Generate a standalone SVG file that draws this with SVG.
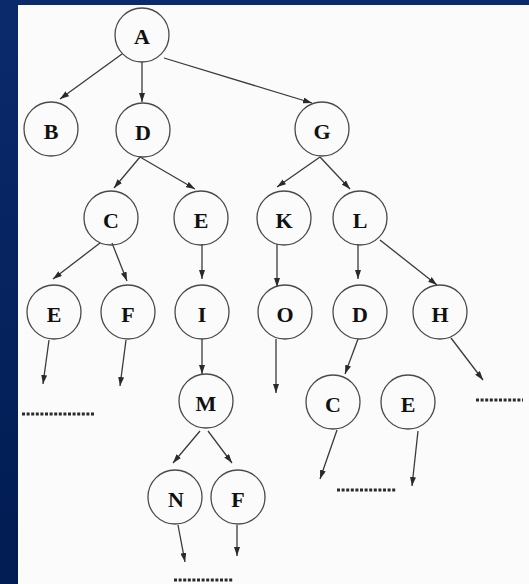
<svg xmlns="http://www.w3.org/2000/svg" width="529" height="584" viewBox="0 0 529 584">
<defs>
<linearGradient id="bg" x1="0" y1="0" x2="0" y2="1">
<stop offset="0" stop-color="#0b2a6c"/>
<stop offset="1" stop-color="#011c52"/>
</linearGradient>
<marker id="ah" markerUnits="userSpaceOnUse" markerWidth="9" markerHeight="6" refX="9" refY="3" orient="auto">
<path d="M0,0 L9,3 L0,6 z" fill="#2a2a2a"/>
</marker>
</defs>
<style>
.n circle{fill:none;stroke:#4a4a4a;stroke-width:1.3}
.n text{font-family:"Liberation Serif",serif;font-weight:bold;font-size:22px;fill:#111;text-anchor:middle}
#edges line{stroke:#3a3a3a;stroke-width:1.3;marker-end:url(#ah)}
.dots{stroke:#2a2a2a;stroke-width:3;stroke-dasharray:3 1.6;fill:none}
</style>
<rect x="0" y="0" width="529" height="584" fill="url(#bg)"/>
<rect x="18" y="5" width="511" height="579" fill="#fbfbfb"/>
<g id="edges">
<line x1="122" y1="54" x2="60" y2="99"/>
<line x1="142" y1="62" x2="142" y2="102"/>
<line x1="164" y1="58" x2="312" y2="103"/>
<line x1="140" y1="157" x2="114" y2="188"/>
<line x1="140" y1="157" x2="195" y2="189"/>
<line x1="320" y1="157" x2="277" y2="187"/>
<line x1="320" y1="157" x2="350" y2="189"/>
<line x1="100" y1="243" x2="53" y2="279"/>
<line x1="112" y1="243" x2="127" y2="281"/>
<line x1="202" y1="244" x2="202" y2="279"/>
<line x1="277" y1="244" x2="277" y2="287"/>
<line x1="358" y1="244" x2="358" y2="279"/>
<line x1="380" y1="240" x2="437" y2="285"/>
<line x1="49" y1="340" x2="43" y2="384"/>
<line x1="126" y1="340" x2="120" y2="386"/>
<line x1="202" y1="339" x2="202" y2="374"/>
<line x1="276" y1="339" x2="276" y2="393"/>
<line x1="358" y1="339" x2="345" y2="374"/>
<line x1="451" y1="338" x2="483" y2="380"/>
<line x1="200" y1="431" x2="173" y2="463"/>
<line x1="208" y1="431" x2="232" y2="463"/>
<line x1="337" y1="430" x2="320" y2="479"/>
<line x1="418" y1="431" x2="412" y2="486"/>
<line x1="178" y1="525" x2="185" y2="562"/>
<line x1="237" y1="525" x2="237" y2="556"/>
</g>
<g id="ellipsis">
<path class="dots" d="M22,414 H95"/>
<path class="dots" d="M476,400 H523"/>
<path class="dots" d="M337,490 H396"/>
<path class="dots" d="M174,580 H233"/>
</g>
<g id="A" class="n"><circle cx="142" cy="35" r="27"/><text x="142" y="44">A</text></g>
<g id="B" class="n"><circle cx="51" cy="129" r="27"/><text x="51" y="139">B</text></g>
<g id="D" class="n"><circle cx="143" cy="130" r="27"/><text x="143" y="140">D</text></g>
<g id="G" class="n"><circle cx="322" cy="129" r="27"/><text x="322" y="139">G</text></g>
<g id="C" class="n"><circle cx="111" cy="218" r="27"/><text x="111" y="228">C</text></g>
<g id="E1" class="n"><circle cx="201" cy="218" r="27"/><text x="201" y="228">E</text></g>
<g id="K" class="n"><circle cx="284" cy="218" r="27"/><text x="284" y="228">K</text></g>
<g id="L" class="n"><circle cx="360" cy="218" r="27"/><text x="360" y="228">L</text></g>
<g id="E2" class="n"><circle cx="54" cy="312" r="27"/><text x="54" y="322">E</text></g>
<g id="F1" class="n"><circle cx="128" cy="312" r="27"/><text x="128" y="322">F</text></g>
<g id="I" class="n"><circle cx="202" cy="312" r="27"/><text x="202" y="322">I</text></g>
<g id="O" class="n"><circle cx="285" cy="312" r="27"/><text x="285" y="322">O</text></g>
<g id="D2" class="n"><circle cx="360" cy="312" r="27"/><text x="360" y="322">D</text></g>
<g id="H" class="n"><circle cx="440" cy="312" r="27"/><text x="440" y="322">H</text></g>
<g id="M" class="n"><circle cx="206" cy="401" r="27"/><text x="206" y="411">M</text></g>
<g id="C2" class="n"><circle cx="333" cy="402" r="27"/><text x="333" y="412">C</text></g>
<g id="E3" class="n"><circle cx="408" cy="402" r="27"/><text x="408" y="412">E</text></g>
<g id="N" class="n"><circle cx="175" cy="497" r="27"/><text x="176" y="507">N</text></g>
<g id="F2" class="n"><circle cx="238" cy="497" r="27"/><text x="238" y="507">F</text></g>
</svg>
